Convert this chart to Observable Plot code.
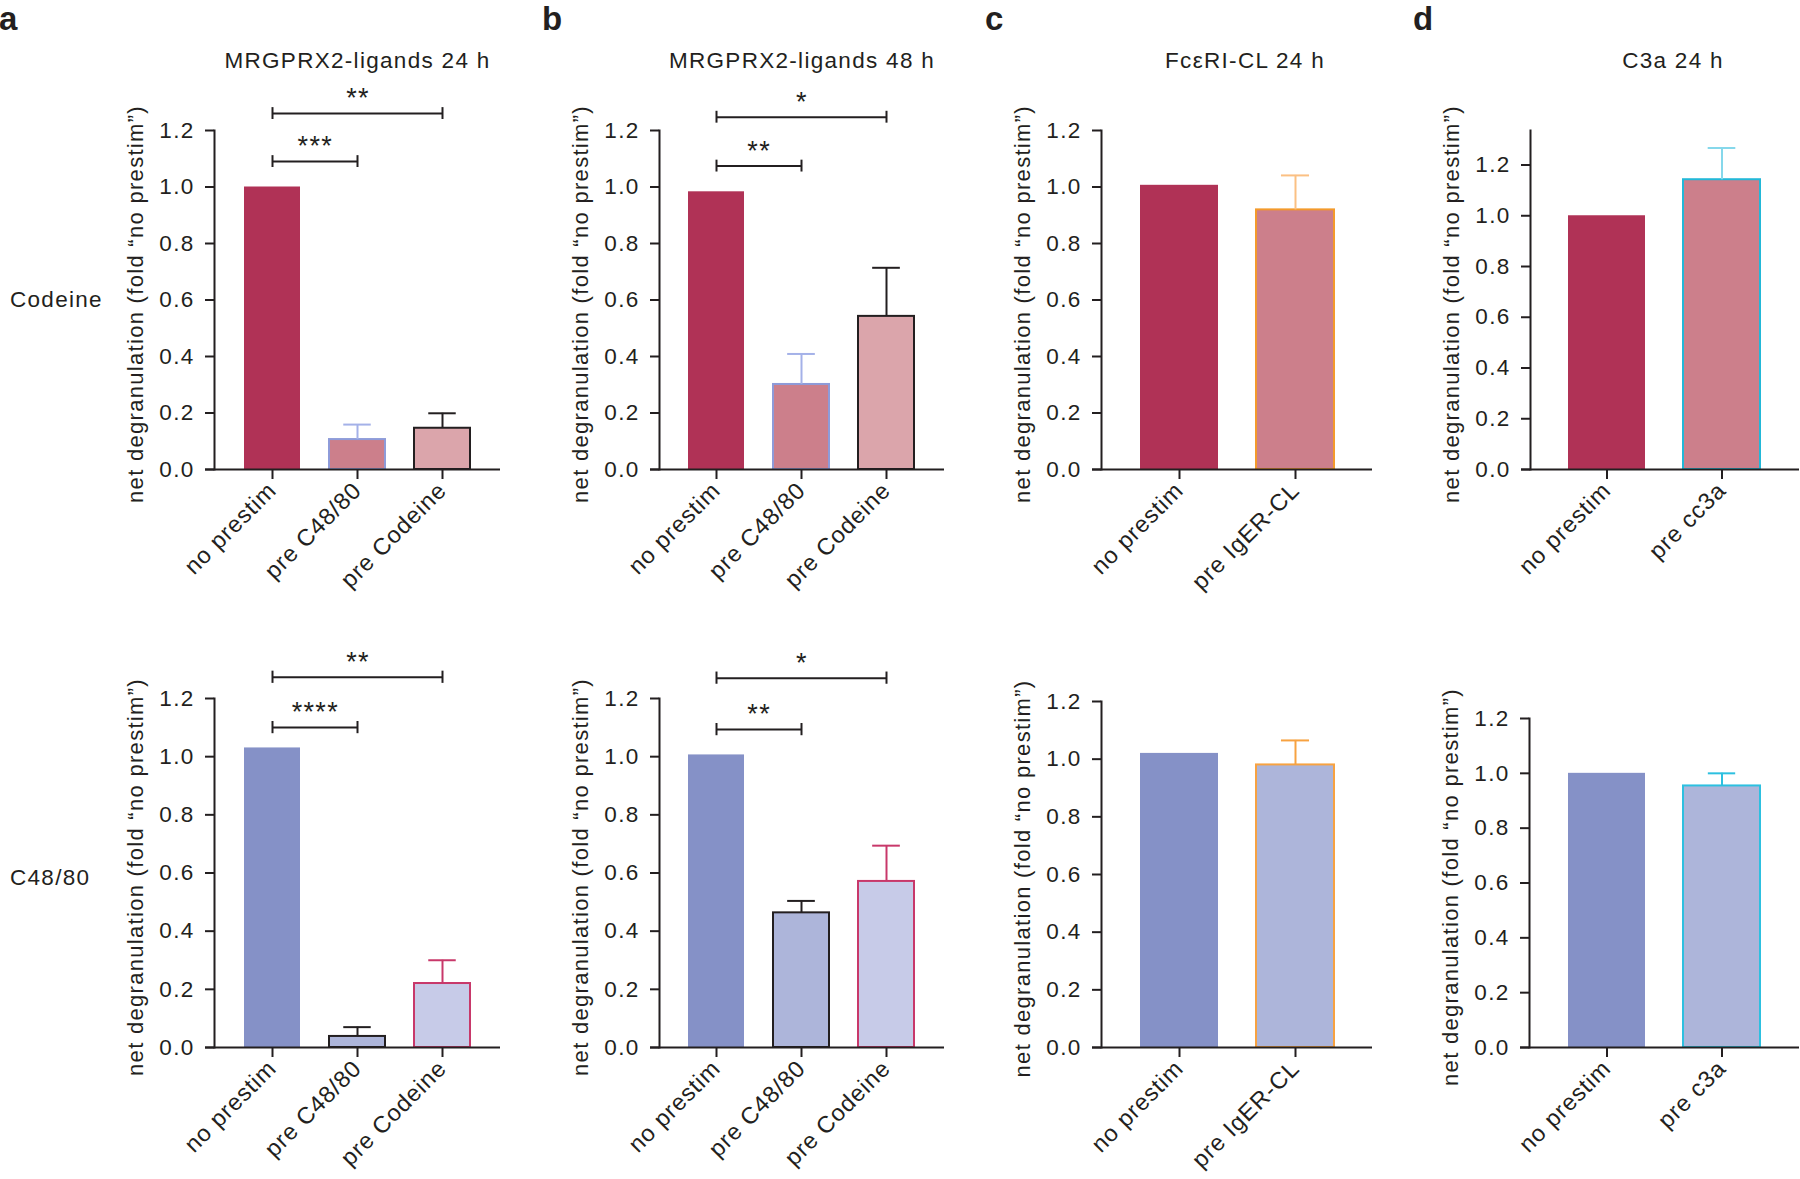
<!DOCTYPE html>
<html><head><meta charset="utf-8">
<script src="https://cdn.jsdelivr.net/npm/d3@7"></script>
<script src="https://cdn.jsdelivr.net/npm/@observablehq/plot@0.6"></script>
<style>
body{margin:0;background:#fff;}
#fig{position:relative;width:1800px;height:1179px;overflow:hidden;font-family:"Liberation Sans",Arial,sans-serif;color:#231f20;background:#fff;}
.panel{position:absolute;}
.lbl{position:absolute;white-space:nowrap;}
</style></head><body><div id="fig"></div>
<script>
// ---------------- data ----------------
const catsMRG = ["no prestim", "pre C48/80", "pre Codeine"];
const catsFc = ["no prestim", "pre IgER-CL"];
const catsC3aTop = ["no prestim", "pre cc3a"];
const catsC3aBottom = ["no prestim", "pre c3a"];
const yTickValues = [0, 0.2, 0.4, 0.6, 0.8, 1.0, 1.2];

const titles = ["MRGPRX2-ligands 24 h", "MRGPRX2-ligands 48 h", "FcεRI-CL 24 h", "C3a 24 h"];
const rowLabels = ["Codeine", "C48/80"];
const panelLetters = ["a", "b", "c", "d"];
const yLabel = "net degranulation (fold “no prestim”)";

// Codeine row (top)
const codeine24hMean = [1.00, 0.106, 0.146];
const codeine24hErr  = [0, 0.053, 0.053];
const codeine48hMean = [0.983, 0.301, 0.542];
const codeine48hErr  = [0, 0.108, 0.172];
const codeineFcMean  = [1.006, 0.919];
const codeineFcErr   = [0, 0.122];
const codeineC3aMean = [1.00, 1.142];
const codeineC3aErr  = [0, 0.125];
// C48/80 row (bottom)
const c4880_24hMean = [1.03, 0.038, 0.22];
const c4880_24hErr  = [0, 0.032, 0.08];
const c4880_48hMean = [1.006, 0.463, 0.571];
const c4880_48hErr  = [0, 0.041, 0.123];
const c4880FcMean   = [1.02, 0.98];
const c4880FcErr    = [0, 0.085];
const c4880C3aMean  = [1.00, 0.954];
const c4880C3aErr   = [0, 0.046];

// significance brackets
const sigCodeine24h = [
  {from: "no prestim", to: "pre C48/80", y: 1.09, label: "***"},
  {from: "no prestim", to: "pre Codeine", y: 1.26, label: "**"}];
const sigCodeine48h = [
  {from: "no prestim", to: "pre C48/80", y: 1.074, label: "**"},
  {from: "no prestim", to: "pre Codeine", y: 1.247, label: "*"}];
const sigC4880_24h = [
  {from: "no prestim", to: "pre C48/80", y: 1.10, label: "****"},
  {from: "no prestim", to: "pre Codeine", y: 1.273, label: "**"}];
const sigC4880_48h = [
  {from: "no prestim", to: "pre C48/80", y: 1.093, label: "**"},
  {from: "no prestim", to: "pre Codeine", y: 1.27, label: "*"}];

// ---------------- styles ----------------
const ink = "#231f20";
const crimson = "#B03256", pink = "#CC7F8B", lightPink = "#DBA5AB";
const blue = "#8591C7", midBlue = "#ADB5DA", lightBlue = "#C7CBE8";
const styleTopMRG = {fills: [crimson, pink, lightPink], strokes: ["none", "#8E9BD9", ink], errStrokes: ["none", "#A4B1E8", ink]};
const styleBotMRG = {fills: [blue, midBlue, lightBlue], strokes: ["none", ink, "#C8386A"], errStrokes: ["none", ink, "#C8386A"]};
const styleTopFc = {fills: [crimson, pink], strokes: ["none", "#F39A2C"], errStrokes: ["none", "#FBC083"]};
const styleBotFc = {fills: [blue, midBlue], strokes: ["none", "#F7A241"], errStrokes: ["none", "#F7A241"]};
const styleTopC3a = {fills: [crimson, pink], strokes: ["none", "#22B8D8"], errStrokes: ["none", "#86D8EB"]};
const styleBotC3a = {fills: [blue, midBlue], strokes: ["none", "#2DC0E0"], errStrokes: ["none", "#2DC0E0"]};

// layout (frame edges in page pixels)
const panels = [
  {cats: catsMRG, mean: codeine24hMean, err: codeine24hErr, sig: sigCodeine24h, frame: {l: 214, r: 500, t: 130, b: 469}, ymax: 1.2, title: titles[0], st: styleTopMRG, pad: 0.34},
  {cats: catsMRG, mean: codeine48hMean, err: codeine48hErr, sig: sigCodeine48h, frame: {l: 659, r: 944, t: 130, b: 469}, ymax: 1.2, title: titles[1], st: styleTopMRG, pad: 0.34},
  {cats: catsFc, mean: codeineFcMean, err: codeineFcErr, sig: [], frame: {l: 1101, r: 1372, t: 130, b: 469}, ymax: 1.2, title: titles[2], titleDx: 8, st: styleTopFc, pad: 0.33},
  {cats: catsC3aTop, mean: codeineC3aMean, err: codeineC3aErr, sig: [], frame: {l: 1530, r: 1799, t: 130, b: 469}, ymax: 1.336, title: titles[3], titleDx: 8, st: styleTopC3a, pad: 0.33},
  {cats: catsMRG, mean: c4880_24hMean, err: c4880_24hErr, sig: sigC4880_24h, frame: {l: 214, r: 500, t: 698, b: 1047}, ymax: 1.2, st: styleBotMRG, pad: 0.34},
  {cats: catsMRG, mean: c4880_48hMean, err: c4880_48hErr, sig: sigC4880_48h, frame: {l: 659, r: 944, t: 698, b: 1047}, ymax: 1.2, st: styleBotMRG, pad: 0.34},
  {cats: catsFc, mean: c4880FcMean, err: c4880FcErr, sig: [], frame: {l: 1101, r: 1372, t: 701, b: 1047}, ymax: 1.2, st: styleBotFc, pad: 0.33},
  {cats: catsC3aBottom, mean: c4880C3aMean, err: c4880C3aErr, sig: [], frame: {l: 1529, r: 1799, t: 718, b: 1047}, ymax: 1.2, st: styleBotC3a, pad: 0.33}
];

const fig = document.getElementById("fig");

function makePanel(p) {
  const mL = 130, mR = 1, mT = 125, mB = 130;
  const W = p.frame.r - p.frame.l, H = p.frame.b - p.frame.t;
  const step = W / (p.cats.length + p.pad), bw = step * (1 - p.pad);
  const capInset = Math.max(0, (bw - 28) / 2);
  const rows = p.cats.map((c, i) => ({cat: c, mean: p.mean[i], err: p.err[i], fill: p.st.fills[i], stroke: p.st.strokes[i], errStroke: p.st.errStrokes[i]}));
  const errRows = rows.filter(d => d.err > 0);
  const ends = p.sig.flatMap(s => [{x: s.from, y: s.y}, {x: s.to, y: s.y}]);
  const marks = [
    Plot.barY(rows, {x: "cat", y: "mean", fill: "fill", stroke: "stroke", strokeWidth: 2}),
    Plot.ruleX(errRows, {x: "cat", y1: "mean", y2: d => d.mean + d.err, stroke: "errStroke", strokeWidth: 2}),
    Plot.tickY(errRows, {x: "cat", y: d => d.mean + d.err, stroke: "errStroke", strokeWidth: 2, insetLeft: capInset, insetRight: capInset}),
    Plot.axisY(yTickValues, {tickSize: 9, tickPadding: 11, tickFormat: d3.format(".1f"), strokeWidth: 2, stroke: ink, fill: ink, label: null, fontSize: 22.5}),
    Plot.axisX({tickSize: 10, tickRotate: -45, tickPadding: 7, strokeWidth: 2, stroke: ink, fill: ink, label: null, fontSize: 23.5}),
    Plot.ruleY([0], {insetLeft: -9, stroke: ink, strokeWidth: 2}),
    Plot.frame({anchor: "left", stroke: ink, strokeWidth: 2}),
    Plot.text([yLabel], {text: d => d, frameAnchor: "left", rotate: -90, dx: -79, dy: 4, fontSize: 22, lineAnchor: "middle", textAnchor: "middle", fill: ink, ariaLabel: "ylab"}),
    Plot.link(p.sig, {x1: "from", x2: "to", y1: "y", y2: "y", stroke: ink, strokeWidth: 2}),
    Plot.ruleX(ends, {x: "x", y1: d => d.y - 0.021, y2: d => d.y + 0.021, stroke: ink, strokeWidth: 2}),
    ...p.sig.map(s => Plot.text([s], {x: "from", y: "y", text: "label", fontSize: 27, lineAnchor: "middle", dy: -15,
      dx: step * (p.cats.indexOf(s.to) - p.cats.indexOf(s.from)) / 2, fill: ink, ariaLabel: "stars"}))
  ];
  if (p.title) marks.push(Plot.text([p.title], {text: d => d, frameAnchor: "top", dy: -70, dx: p.titleDx || 0, fontSize: 22.5, lineAnchor: "middle", fill: ink, ariaLabel: "title"}));
  const plot = Plot.plot({
    width: mL + W + mR, height: mT + H + mB,
    marginLeft: mL, marginRight: mR, marginTop: mT, marginBottom: mB,
    x: {domain: p.cats, padding: p.pad, label: null},
    y: {domain: [0, p.ymax], label: null},
    color: {type: "identity"},
    style: {fontFamily: "Liberation Sans", fontSize: "22px", color: ink, background: "none", overflow: "visible", letterSpacing: "1.3px"},
    marks
  });
  const setLS = (label, v) => plot.querySelectorAll(`g[aria-label="${label}"]`).forEach(g => g.style.letterSpacing = v);
  setLS("ylab", "1.6px");
  setLS("title", "1.8px");
  setLS("x-axis tick label", "0.9px");
  setLS("stars", "1.5px");
  const div = document.createElement("div");
  div.className = "panel";
  div.style.left = (p.frame.l - mL) + "px";
  div.style.top = (p.frame.t - mT) + "px";
  div.style.width = (mL + W + mR) + "px";
  div.appendChild(plot);
  fig.appendChild(div);
}
panels.forEach(makePanel);

function addLabel(text, x, y, size, weight, lineHeight, anchorY, ls) {
  const d = document.createElement("div");
  d.className = "lbl";
  d.textContent = text;
  d.style.left = x + "px";
  d.style.top = y + "px";
  d.style.fontSize = size + "px";
  d.style.fontWeight = weight;
  d.style.lineHeight = lineHeight;
  d.style.letterSpacing = ls + "px";
  d.style.transform = "translateY(-" + anchorY + "%)";
  fig.appendChild(d);
}
const letterX = [-1, 542, 985, 1413];
panelLetters.forEach((t, i) => addLabel(t, letterX[i], 0, 33, "bold", "normal", 0, 0));
addLabel(rowLabels[0], 10, 300, 22.5, "normal", 1, 50, 1.3);
addLabel(rowLabels[1], 10, 878, 22.5, "normal", 1, 50, 1.3);
</script></body></html>
